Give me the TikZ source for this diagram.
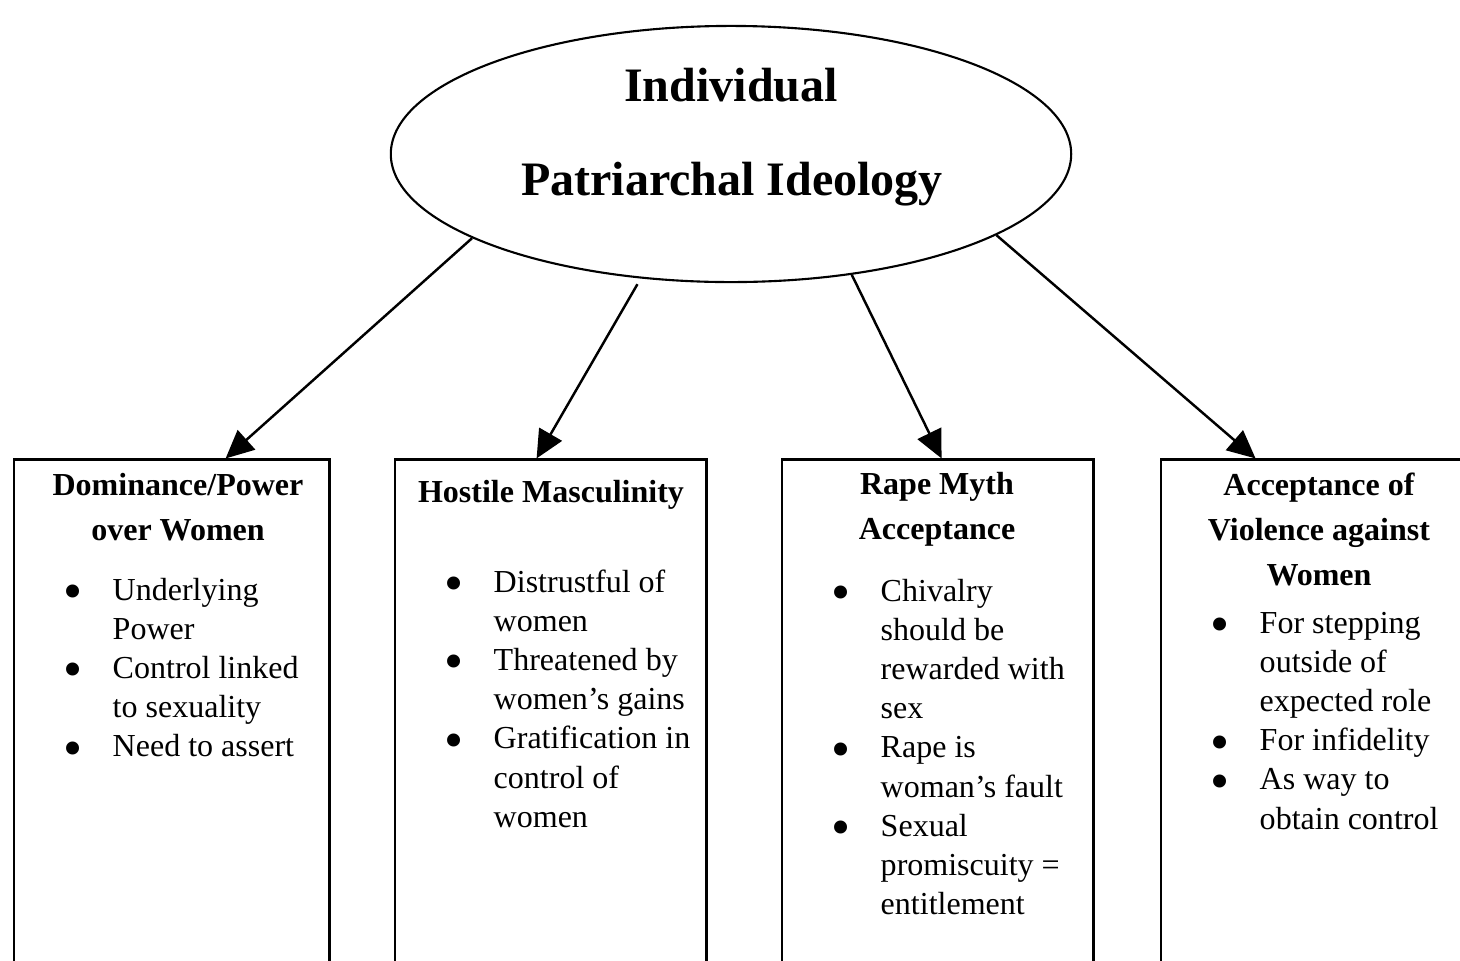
\documentclass[tikz,border=0pt]{standalone}
\usepackage{fontspec}
\setmainfont{Liberation Serif}
\usetikzlibrary{shapes.geometric,arrows.meta}
% bullet mark and hanging list entry (line breaks stay inside the entry)
\newcommand\bulletmark{\makebox[0.49cm][l]{\raisebox{-0.095cm}{\scalebox{1.7}{\textbullet}}}}
\newcommand\bitem[1]{\par\noindent\hangindent=0.49cm\hangafter=1\bulletmark{\let\\\newline#1}\par}
\newcommand\itemlist[1]{\vtop{\hsize=3cm\parskip=0pt\raggedright#1}}
\newcommand\headlines[1]{\vtop{\hsize=4cm\parskip=0pt\centering#1\par}}
\begin{document}
\begin{tikzpicture}[x=0.01cm,y=-0.01cm,
  idea/.style={draw,ellipse,line width=0.6pt,minimum width=6.8cm,minimum height=2.56cm,inner sep=0pt},
  titletext/.style={font=\fontsize{0.48cm}{0.5cm}\selectfont\bfseries,inner sep=0pt,anchor=base},
  panel/.style={draw,line width=0.8pt,rectangle,inner sep=0pt,minimum height=5.6cm},
  hdr/.style={font=\fontsize{0.32cm}{0.45cm}\selectfont\bfseries,inner sep=0pt,anchor=base},
  items/.style={font=\fontsize{0.32cm}{0.392cm}\selectfont,inner sep=0pt,anchor=base west},
  link/.style={line width=0.7pt,-{Triangle[length=0.28cm,width=0.26cm]}}]
\useasboundingbox (0,0) rectangle (1460,960);
\clip (0,0) rectangle (1460,960);

% central concept
\node[idea] (ell) at (731,154) {};
\node[titletext] (t1) at (731,101) {Individual};
\node[titletext] (t2) at (732,195) {Patriarchal Ideology};

% four component panels
\node[panel,minimum width=3.15cm] (box1) at (171.5,740) {};
\node[panel,minimum width=3.11cm] (box2) at (550.5,740) {};
\node[panel,minimum width=3.11cm] (box3) at (937.5,740) {};
\node[panel,minimum width=3.15cm] (box4) at (1318.5,740) {};

% panel headings
\node[hdr] (h1) at (178,495) {\headlines{Dominance/Power\\over Women}};
\node[hdr] (h2) at (551,502) {\headlines{Hostile Masculinity}};
\node[hdr] (h3) at (937,494) {\headlines{Rape Myth\\Acceptance}};
\node[hdr] (h4) at (1319,495) {\headlines{Acceptance of\\Violence against\\Women}};

% panel bullet lists
\node[items] (l1) at (63,600) {\itemlist{%
  \bitem{Underlying\\Power}
  \bitem{Control linked\\to sexuality}
  \bitem{Need to assert}}};
\node[items] (l2) at (444,592) {\itemlist{%
  \bitem{Distrustful of\\women}
  \bitem{Threatened by\\women’s gains}
  \bitem{Gratification in\\control of\\women}}};
\node[items] (l3) at (831,601) {\itemlist{%
  \bitem{Chivalry\\should be\\rewarded with\\sex}
  \bitem{Rape is\\woman’s fault}
  \bitem{Sexual\\promiscuity =\\entitlement}}};
\node[items] (l4) at (1210,633) {\itemlist{%
  \bitem{For stepping\\outside of\\expected role}
  \bitem{For infidelity}
  \bitem{As way to\\obtain control}}};

% arrows from the ideology to each component
\draw[link] (ell.-162.7) -- ([xshift=2.13cm]box1.north west);
\draw[link] ([yshift=-0.06cm]ell.-127.2) -- ([xshift=1.43cm]box2.north west);
\draw[link] (ell.-45.5) -- ([xshift=1.61cm]box3.north west);
\draw[link] (ell.-17.3) -- ([xshift=0.96cm]box4.north west);
\end{tikzpicture}
\end{document}
